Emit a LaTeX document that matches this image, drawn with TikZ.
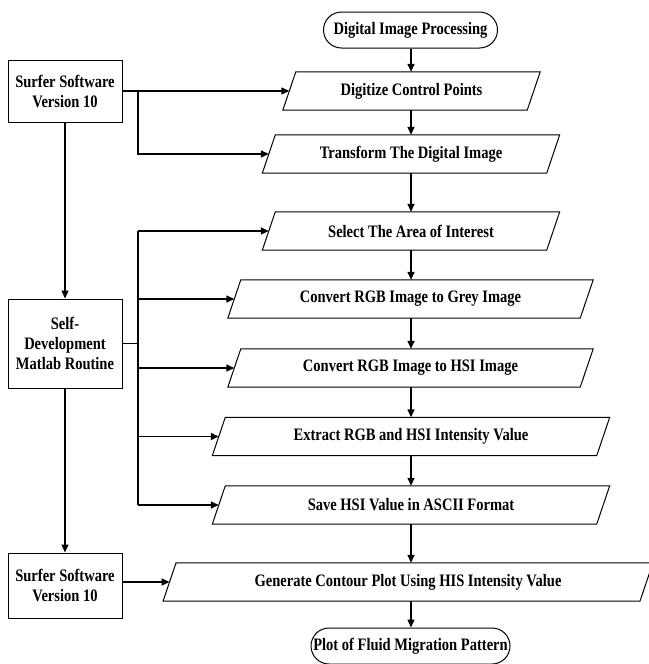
\documentclass[tikz,border=0pt]{standalone}
\usepackage{fontspec}
\setmainfont{Liberation Serif}[FakeStretch=0.83]
\usetikzlibrary{arrows.meta,shapes.misc}
\newcommand\paraframe[1]{\draw[pline] ([xshift=6.5pt]#1.north west) -- ([xshift=6.5pt]#1.north east) -- ([xshift=-6.5pt]#1.south east) -- ([xshift=-6.5pt]#1.south west) -- cycle;}
\begin{document}
\begin{tikzpicture}[x=1pt,y=-1pt,
  txt/.style={font=\bfseries\fontsize{17.5}{20}\selectfont, align=center},
  sidebox/.style={txt, draw, line width=1pt, minimum width=114pt, inner sep=0pt},
  term/.style={txt, draw, line width=1pt, rounded rectangle, minimum height=36pt, inner sep=0pt},
  para/.style={txt, minimum height=38pt, inner sep=0pt},
  pline/.style={line width=1pt},
  arr/.style={-{Triangle[length=8pt,width=7pt]}, line width=1.4pt},
  ln/.style={line width=1.4pt}]
\useasboundingbox (0,0) rectangle (648,664);
\fill[white] (0,0) rectangle (648,664);
\coordinate (col) at (411,0);
% main column
\node[term, minimum width=174pt] (start) at (410.5,30) {Digital Image Processing};
\node[para, minimum width=244pt] (dig) at (411.5,91) {Digitize Control Points};
\node[para, minimum width=284pt] (trans) at (411,154) {Transform The Digital Image};
\node[para, minimum width=284pt] (sel) at (411,231) {Select The Area of Interest};
\node[para, minimum width=352pt] (grey) at (410.5,299) {Convert RGB Image to Grey Image};
\node[para, minimum width=352pt] (hsi) at (410.5,368) {Convert RGB Image to HSI Image};
\node[para, minimum width=384pt] (ext) at (411,436.5) {Extract RGB and HSI Intensity Value};
\node[para, minimum width=384pt] (save) at (411,505) {Save HSI Value in ASCII Format};
\node[para, minimum width=476.5pt] (gen) at (408,582) {Generate Contour Plot Using HIS Intensity Value};
\node[term, minimum width=199pt] (end) at (410.5,646) {Plot of Fluid Migration Pattern};
\foreach \n in {dig,trans,sel,grey,hsi,ext,save,gen} {\paraframe{\n}}
% side boxes
\node[sidebox, minimum height=62pt] (s1) at (65,91) {Surfer Software\\Version 10};
\node[sidebox, minimum height=89pt] (sd) at (65,343.5) {Self-\\Development\\Matlab Routine};
\node[sidebox, minimum height=65pt] (s2) at (65,585.5) {Surfer Software\\Version 10};
% main flow
\foreach \a/\b in {start/dig,dig/trans,trans/sel,sel/grey,grey/hsi,hsi/ext,ext/save,save/gen,gen/end}
  {\draw[arr] (\a.south -| col) -- (\b.north -| col);}
% left column
\draw[arr] (s1) -- (sd);
\draw[arr] (sd) -- (s2);
\coordinate (b1) at (138,91);
\draw[arr] (s1.east) -- (dig.west);
\draw[arr] (b1) |- (trans.west);
\coordinate (b2) at (138,343.5);
\coordinate (btop) at (138,231);
\coordinate (bbot) at (138,505);
\draw[ln] (sd.east) -- (b2);
\draw[ln] (btop) -- (bbot);
\draw[arr] (btop) -- (sel.west);
\draw[arr] (b2 |- grey.west) -- (grey.west);
\draw[arr] (b2 |- hsi.west) -- (hsi.west);
\draw[arr] (b2 |- ext.west) -- (ext.west);
\draw[arr] (bbot) -- (save.west);
\draw[arr] (s2.east |- gen.west) -- (gen.west);
\end{tikzpicture}
\end{document}
